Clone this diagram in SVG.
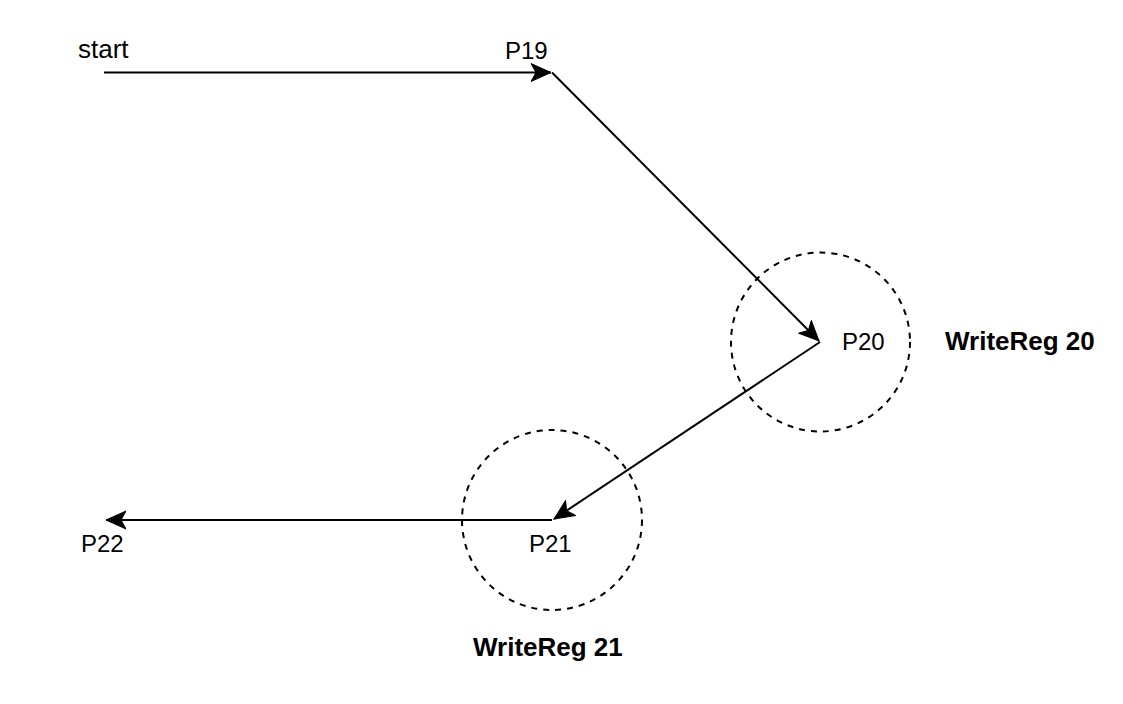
<svg xmlns="http://www.w3.org/2000/svg" width="1123" height="704" viewBox="0 0 1123 704">
<style>
.lbl{font-family:"Liberation Sans",Arial,sans-serif;font-size:24px;fill:#000}
.big{font-size:26px}
.bold{font-weight:bold;font-size:26px}
.conn{stroke:#000;stroke-width:2;fill:none}
.ring{stroke:#000;stroke-width:2;fill:none;stroke-dasharray:6 6}
</style>
<defs>
<marker id="arr" markerUnits="userSpaceOnUse" markerWidth="22" markerHeight="20" refX="20" refY="9" orient="auto" viewBox="0 0 22 18">
<path d="M0,0 L20,9 L0,18 L5,9 Z" fill="#000" stroke="#000" stroke-width="1"/>
</marker>
</defs>
<rect width="1123" height="704" fill="#fff"/>
<g id="ring20"><circle class="ring" cx="820.5" cy="342" r="89.5"/></g>
<g id="ring21"><circle class="ring" cx="552" cy="520" r="90"/></g>
<g id="connectors">
<line class="conn" x1="104" y1="72.5" x2="551" y2="72.5" marker-end="url(#arr)"/>
<line class="conn" x1="552" y1="72.5" x2="819" y2="341" marker-end="url(#arr)"/>
<line class="conn" x1="820" y1="342" x2="554" y2="519" marker-end="url(#arr)"/>
<line class="conn" x1="552" y1="520" x2="106" y2="520" marker-end="url(#arr)"/>
</g>
<g id="start"><text class="lbl big" x="78" y="58">start</text></g>
<g id="P19"><text class="lbl" x="505" y="59">P19</text></g>
<g id="P20"><text class="lbl" x="842" y="350">P20</text></g>
<g id="WriteReg20"><text class="lbl bold" x="945" y="350">WriteReg 20</text></g>
<g id="P21"><text class="lbl" x="529" y="552">P21</text></g>
<g id="P22"><text class="lbl" x="81" y="552">P22</text></g>
<g id="WriteReg21"><text class="lbl bold" x="473" y="656">WriteReg 21</text></g>
</svg>
